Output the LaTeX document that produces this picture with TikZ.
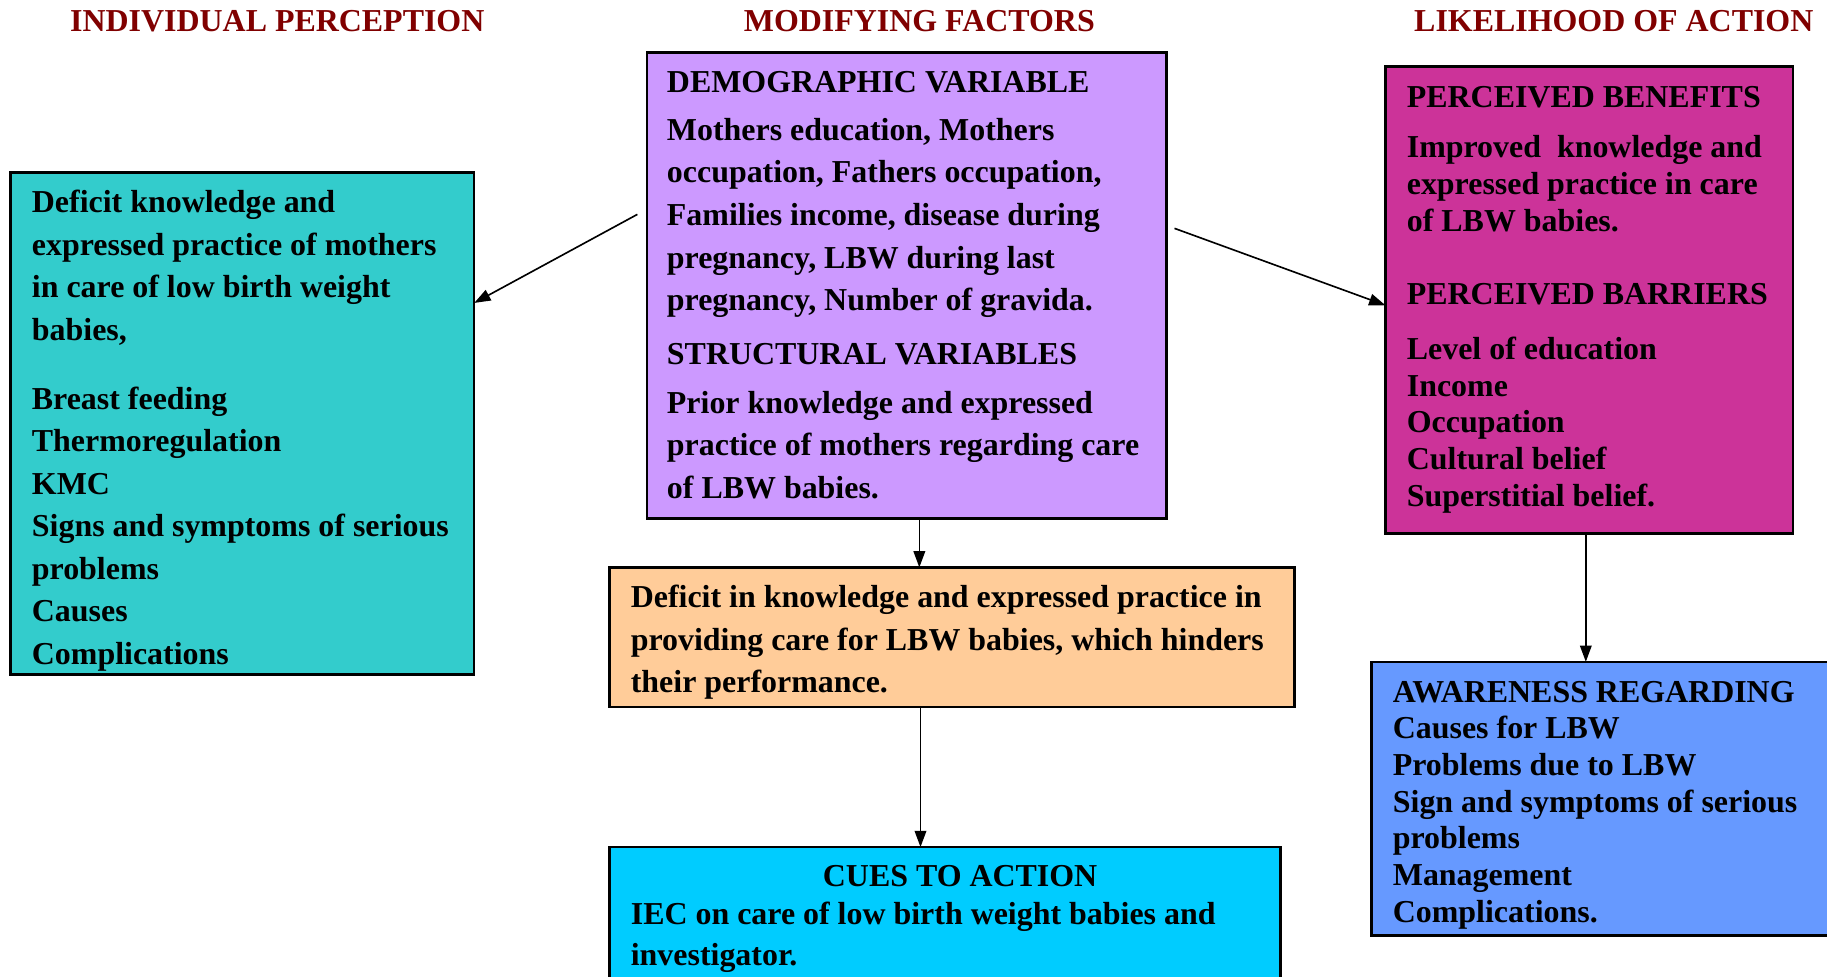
\documentclass[tikz,border=0pt]{standalone}
\usepackage{fontspec}
\setmainfont{Liberation Serif}
\usepackage{tikz}
\usetikzlibrary{arrows.meta}
\definecolor{maroon}{RGB}{128, 0, 0}
\definecolor{teal80}{RGB}{51, 204, 204}
\definecolor{lilac}{RGB}{204, 153, 255}
\definecolor{plum}{RGB}{204, 51, 153}
\definecolor{peach}{RGB}{255, 204, 153}
\definecolor{sky}{RGB}{0, 204, 255}
\definecolor{cornflower}{RGB}{102, 153, 255}

\begin{document}
\begin{tikzpicture}[x=0.5pt, y=-0.5pt,
  box/.style={draw, line width=1, anchor=north west, inner sep=0, outer sep=0},
  txt/.style={anchor=north west, inner sep=0, align=left, font=\fontsize{13.7}{18.25}\selectfont\bfseries},
  tight/.style={font=\fontsize{13.7}{15.75}\selectfont\bfseries},
  head/.style={maroon, inner sep=0, font=\fontsize{13.7}{16}\selectfont\bfseries},
  arr/.style={-{Triangle[length=7pt, width=5pt]}, line width=0.7}]

  \useasboundingbox (0, 0) rectangle (1568, 838);

  % column titles
  \node[head] (hindiv) at (238, 18) {INDIVIDUAL PERCEPTION};
  \node[head] (hmodif) at (789, 18) {MODIFYING FACTORS};
  \node[head] (hlikely) at (1385, 18) {LIKELIHOOD OF ACTION};

  % boxes
  \node[box, fill=teal80, minimum width=199pt, minimum height=215.5pt] (indiv) at (9, 148) {};
  \node[box, fill=lilac, minimum width=223pt, minimum height=200pt] (modif) at (555, 45) {};
  \node[box, fill=plum, minimum width=175pt, minimum height=200.5pt] (likely) at (1189, 57) {};
  \node[box, fill=peach, minimum width=294pt, minimum height=60pt] (deficit) at (523, 487) {};
  \node[box, fill=sky, minimum width=288pt, minimum height=62.5pt] (cues) at (523, 727) {};
  \node[box, fill=cornflower, minimum width=197.5pt, minimum height=117.5pt] (aware) at (1177, 568) {};

  % box texts
  \node[txt] (indivtext) at (27, 163) {Deficit knowledge and\\ expressed practice of mothers\\
    in care of low birth weight\\ babies,\\[11.25pt] Breast feeding\\ Thermoregulation\\ KMC\\
    Signs and symptoms of serious\\ problems\\ Causes\\ Complications};

  \node[txt] (modiftext) at (572, 61) {DEMOGRAPHIC VARIABLE\\[2.25pt] Mothers education, Mothers\\
    occupation, Fathers occupation,\\ Families income, disease during\\ pregnancy, LBW during last\\
    pregnancy, Number of gravida.\\[4.75pt] STRUCTURAL VARIABLES\\[2.75pt]
    Prior knowledge and expressed\\ practice of mothers regarding care\\ of LBW babies.};

  \node[txt, tight] (likelytext) at (1207, 74) {PERCEIVED BENEFITS\\[5.75pt] Improved\ \ knowledge and\\
    expressed practice in care\\ of LBW babies.\\[15.75pt] PERCEIVED BARRIERS\\[7.75pt]
    Level of education\\ Income\\ Occupation\\ Cultural belief\\ Superstitial belief.};

  \node[txt] (deficittext) at (541, 502) {Deficit in knowledge and expressed practice in\\
    providing care for LBW babies, which hinders\\ their performance.};

  \node[txt, anchor=center] (cuestitle) at (824, 752) {CUES TO ACTION};
  \node[txt, font=\fontsize{13.7}{17.5}\selectfont\bfseries] (cuestext) at (541, 774)
    {IEC on care of low birth weight babies and\\ investigator.};

  \node[txt, tight] (awaretext) at (1195, 584) {AWARENESS REGARDING\\ Causes for LBW\\
    Problems due to LBW\\ Sign and symptoms of serious\\ problems\\ Management\\ Complications.};

  % arrows
  \draw[arr] ([shift={(-4pt, -69.5pt)}]modif.north west) -- ([yshift=51.75pt]indiv.east);
  \draw[arr] ([shift={(3.5pt, 24.5pt)}]modif.east) -- ([yshift=-2.25pt]likely.west);
  \draw[arr] ([xshift=5.5pt]modif.south) -- ([xshift=5.5pt]modif.south |- deficit.north);
  \draw[arr] ([xshift=-13.5pt]deficit.south) -- ([xshift=-13.5pt]deficit.south |- cues.north);
  \draw[arr] ([xshift=-1.5pt]likely.south) -- ([xshift=-1.5pt]likely.south |- aware.north);

\end{tikzpicture}
\end{document}
